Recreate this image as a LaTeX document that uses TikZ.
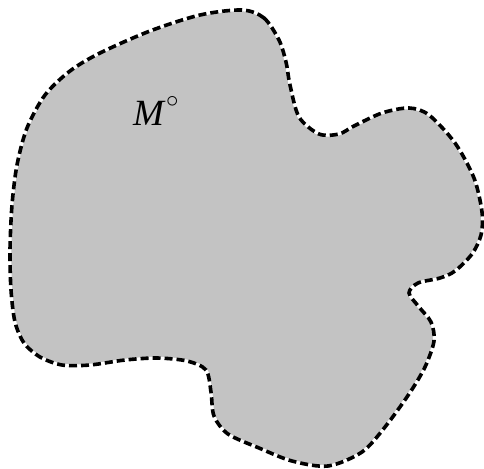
\documentclass[tikz,border=0pt]{standalone}
\usepackage{fontspec}
\setmainfont{Liberation Serif}
\definecolor{blobgray}{HTML}{C3C3C3}
\tikzset{
  blobfill/.style={fill=blobgray, draw=none},
  blobedge/.style={draw=black, line width=3.6pt, dash pattern=on 8pt off 4pt},
  blobunder/.style={draw=white, line width=2.6pt},
  lab/.style={font=\fontsize{37}{40}\selectfont, inner sep=0pt, anchor=base west}
}
\begin{document}
\begin{tikzpicture}[x=1pt,y=-1pt]
\useasboundingbox (0,0) rectangle (484,468);
\def\blobpath{plot[smooth cycle, tension=0.5] coordinates {
(242,10) (264,18) (279,40) (286,62) (290,85) (299,117) (319,134) (339,134) (354,126)
(382,113) (409,108) (429,115) (455,143) (474,178) (482,212) (481,235) (472,254)
(455,271) (440,278) (418,283) (409,293) (419,307) (431,322) (434,341) (425,367)
(409,394) (385,427) (362,452) (328,466) (292,461) (259,448) (228,434) (214,416)
(211,392) (206,370) (187,361) (157,358) (125,360) (90,365) (62,365) (40,357)
(24,343) (15,322) (11,290) (10,250) (12,205) (17,165) (27,128) (45,95) (70,71)
(100,53) (150,31) (200,15)}}
\path[blobfill] \blobpath;
\path[blobunder] \blobpath;
\path[blobedge] \blobpath;
\node[lab] (m) at (133,125) {\itshape M\kern2pt\raisebox{18pt}{\fontsize{50}{50}\selectfont$\circ$}};
\end{tikzpicture}
\end{document}
